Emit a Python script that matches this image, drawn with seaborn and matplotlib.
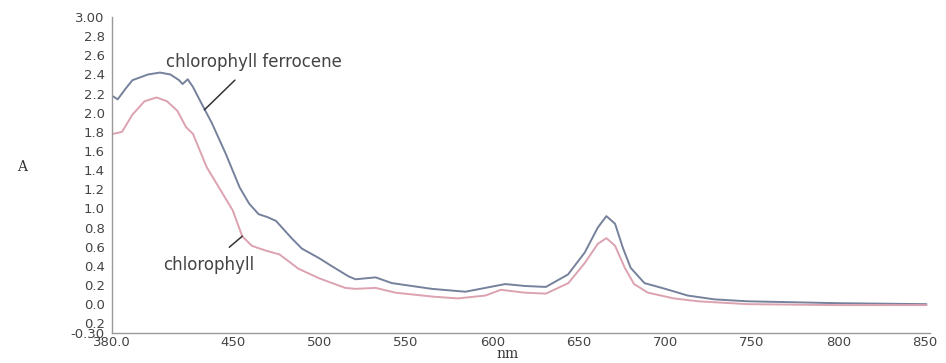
import seaborn as sns
import matplotlib.pyplot as plt
import numpy as np
import pandas as pd

# wavelength (nm) and absorbance
ferro_nm = [381, 383.5, 388, 392, 401, 408, 414, 419, 421, 424, 427, 431, 438, 446, 454,
            459.5, 465, 470, 475, 484, 490, 496, 500, 507, 517, 521, 532.6, 542, 565, 584.5,
            596, 607.5, 619, 631, 643.8, 653.5, 661, 666, 671, 675.5, 680, 688, 700, 713,
            728.5, 747.5, 800, 851]
ferro_a = [2.17, 2.14, 2.25, 2.34, 2.40, 2.42, 2.40, 2.34, 2.30, 2.35, 2.27, 2.13, 1.89, 1.57, 1.22,
           1.05, 0.94, 0.91, 0.87, 0.69, 0.58, 0.52, 0.48, 0.40, 0.29, 0.26, 0.28, 0.22, 0.16, 0.13,
           0.17, 0.21, 0.19, 0.18, 0.31, 0.54, 0.80, 0.92, 0.84, 0.59, 0.38, 0.22, 0.16, 0.09,
           0.05, 0.03, 0.01, 0.00]

chl_nm = [381, 386, 392, 399, 406, 412, 418, 423, 427, 435, 442, 450, 455.5, 461, 469, 477,
          488, 500, 515, 521, 532.6, 544, 565, 580, 596, 605, 619, 631, 644, 653.5, 661,
          666, 671, 676.6, 682, 690, 705, 719, 747.5, 800, 851]
chl_a = [1.78, 1.80, 1.98, 2.12, 2.16, 2.12, 2.02, 1.85, 1.78, 1.43, 1.22, 0.98, 0.71, 0.61, 0.56, 0.52,
         0.37, 0.27, 0.17, 0.16, 0.17, 0.12, 0.08, 0.06, 0.09, 0.15, 0.12, 0.11, 0.22, 0.43, 0.63,
         0.69, 0.61, 0.38, 0.21, 0.12, 0.06, 0.03, 0.0, -0.01, -0.01]

x_ticks = [380, 400, 450, 500, 550, 600, 650, 700, 750, 800, 850]
x_labels = ["380.0", "", "450", "500", "550", "600", "650", "700", "750", "800", "850"]
y_ticks = [3.0, 2.8, 2.6, 2.4, 2.2, 2.0, 1.8, 1.6, 1.4, 1.2, 1.0, 0.8, 0.6, 0.4, 0.2, 0.0, -0.2, -0.3]
y_labels = ["3.00", "2.8", "2.6", "2.4", "2.2", "2.0", "1.8", "1.6", "1.4", "1.2", "1.0",
            "0.8", "0.6", "0.4", "0.2", "0.0", "0.2", "-0.30"]

df = pd.concat([
    pd.DataFrame({"nm": ferro_nm, "A": ferro_a, "sample": "chlorophyll ferrocene"}),
    pd.DataFrame({"nm": chl_nm, "A": chl_a, "sample": "chlorophyll"}),
])

sns.set_style("white")
fig = plt.figure(figsize=(9.46, 3.63), dpi=100)
ax = fig.add_axes([0.118, 0.083, 0.865, 0.87])

sns.lineplot(data=df, x="nm", y="A", hue="sample", sort=False, legend=False,
             palette={"chlorophyll ferrocene": "#76819c", "chlorophyll": "#dca2b0"},
             linewidth=1.4, ax=ax)

ax.set_xlim(380, 853)
ax.set_ylim(-0.3, 3.0)
ax.set_xticks(x_ticks)
ax.set_xticklabels(x_labels)
ax.set_yticks(y_ticks)
ax.set_yticklabels(y_labels)
ax.tick_params(axis="both", labelsize=9.5, colors="#888888", length=3, width=0.8)
ax.tick_params(axis="x", direction="inout", pad=1)
ax.tick_params(axis="y", direction="out", pad=2)
for lbl in ax.get_xticklabels() + ax.get_yticklabels():
    lbl.set_color("#444444")
sns.despine(ax=ax)
for s in ["left", "bottom"]:
    ax.spines[s].set_color("#999999")
    ax.spines[s].set_linewidth(1.0)
ax.set_xlabel("")
ax.set_ylabel("")

fig.text(0.023, 0.54, "A", fontsize=10, color="#333333", ha="center", va="center", family="serif")
fig.text(0.537, 0.005, "nm", fontsize=10, color="#333333", ha="center", va="bottom", family="serif")

ax.annotate("chlorophyll ferrocene", xy=(433.6, 2.03), xytext=(462, 2.53),
            ha="center", va="center", fontsize=12, color="#444444",
            arrowprops=dict(arrowstyle="-", color="#333333", lw=1.1, shrinkA=6, shrinkB=0))
ax.annotate("chlorophyll", xy=(455.5, 0.71), xytext=(436, 0.41),
            ha="center", va="center", fontsize=12, color="#444444",
            arrowprops=dict(arrowstyle="-", color="#333333", lw=1.1, shrinkA=6, shrinkB=0))

fig.savefig("out.png", dpi=100)
